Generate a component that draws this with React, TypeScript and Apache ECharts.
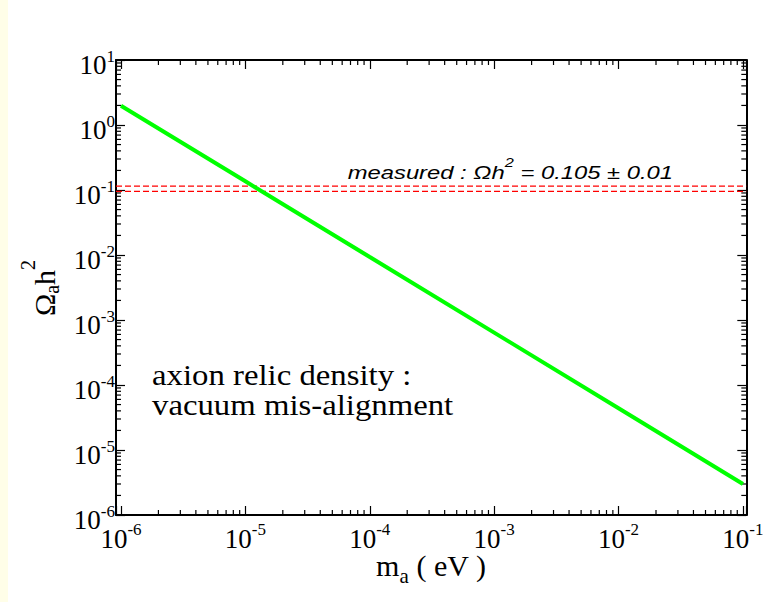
import React, { useEffect, useRef } from 'react';
import * as echarts from 'echarts';

// ---- data ----
const massEV = [1e-6, 1e-5, 1e-4, 1e-3, 1e-2, 1e-1];
const omegaH2 = [1.98, 0.136, 0.0093, 6.4e-4, 4.4e-5, 3.0e-6];
const measuredUpper = 0.115;
const measuredLower = 0.095;
const xLimits = [9.12e-7, 0.1064];
const yLimits = [1e-6, 10];
const minorSteps = [2, 3, 4, 5, 6, 7, 8, 9];
const xDecadeExps = [-7, -6, -5, -4, -3, -2, -1];
const yDecadeExps = [-6, -5, -4, -3, -2, -1, 0];

const SERIF = 'Liberation Serif';
const SANS = 'Liberation Sans';

function minorValues(exps: number[], lo: number, hi: number): number[] {
  const out: number[] = [];
  for (const e of exps) {
    for (const k of minorSteps) {
      const v = k * Math.pow(10, e);
      if (v > lo * 1.0001 && v < hi * 0.9999) out.push(v);
    }
  }
  return out;
}

const fmtPow = (v: number) => {
  const e = Math.log10(v);
  const r = Math.round(e);
  if (Math.abs(e - r) > 1e-6) return '';
  return `{b|10}{s|${r}}`;
};

const tickRich = {
  b: { fontFamily: SERIF, fontSize: 27, color: '#000', verticalAlign: 'bottom', lineHeight: 31 },
  s: { fontFamily: SERIF, fontSize: 17, color: '#000', verticalAlign: 'top', lineHeight: 17 },
};

const tickLine = { color: '#000', width: 1.2 };
const axisLine = { show: true, onZero: false, lineStyle: { color: '#000', width: 2 } };

export default function App() {
  const ref = useRef<HTMLDivElement>(null);

  useEffect(() => {
    document.body.style.margin = '0';
    if (!ref.current) return;
    const chart = echarts.init(ref.current, undefined, { renderer: 'svg' });

    const xMinor = minorValues(xDecadeExps, xLimits[0], xLimits[1]);
    const yMinor = minorValues(yDecadeExps, yLimits[0], yLimits[1]);

    const minorStyle = { stroke: '#000', lineWidth: 1.2 };

    const option: any = {
      animation: false,
      backgroundColor: '#ffffff',
      textStyle: { fontFamily: SERIF },
      grid: { left: 116, right: 37.7, top: 60, bottom: 87, containLabel: false, outerBoundsMode: 'none' },
      xAxis: [
        {
          type: 'log', logBase: 10, min: xLimits[0], max: xLimits[1], position: 'bottom',
          axisLine, axisTick: { show: true, inside: true, length: 9, lineStyle: tickLine },
          minorTick: { show: false }, splitLine: { show: false },
          axisLabel: { show: true, margin: 6, formatter: fmtPow, rich: tickRich, fontFamily: SERIF },
          name: '{m|m}{sub|a}{t| ( eV )}', nameLocation: 'middle', nameGap: 35, nameMoveOverlap: false,
          nameTextStyle: {
            fontFamily: SERIF,
            rich: {
              m: { fontFamily: SERIF, fontSize: 30, color: '#000', verticalAlign: 'top', lineHeight: 30 },
              sub: { fontFamily: SERIF, fontSize: 21, color: '#000', verticalAlign: 'top', padding: [15.5, 0, 0, 0], lineHeight: 36.5 },
              t: { fontFamily: SERIF, fontSize: 30, color: '#000', verticalAlign: 'top', lineHeight: 30 },
            },
          },
        },
        {
          type: 'log', logBase: 10, min: xLimits[0], max: xLimits[1], position: 'top',
          axisLine, axisTick: { show: true, inside: true, length: 9, lineStyle: tickLine },
          minorTick: { show: false }, splitLine: { show: false }, axisLabel: { show: false },
        },
      ],
      yAxis: [
        {
          type: 'log', logBase: 10, min: yLimits[0], max: yLimits[1], position: 'left',
          axisLine, axisTick: { show: true, inside: true, length: 9, lineStyle: tickLine },
          minorTick: { show: false }, splitLine: { show: false },
          axisLabel: { show: true, margin: 1, formatter: fmtPow, rich: tickRich, padding: [6, 0, 0, 0], fontFamily: SERIF },
        },
        {
          type: 'log', logBase: 10, min: yLimits[0], max: yLimits[1], position: 'right',
          axisLine, axisTick: { show: true, inside: true, length: 9, lineStyle: tickLine },
          minorTick: { show: false }, splitLine: { show: false }, axisLabel: { show: false },
        },
      ],
      series: [
        {
          type: 'custom', name: 'xMinor', xAxisIndex: 0, yAxisIndex: 0, silent: true, clip: false,
          data: xMinor.map((v) => [v, yLimits[0]]),
          renderItem: (params: any, api: any) => {
            const v = api.value(0);
            const pb = api.coord([v, yLimits[0]]);
            const pt = api.coord([v, yLimits[1]]);
            return {
              type: 'group',
              children: [
                { type: 'line', shape: { x1: pb[0], y1: pb[1], x2: pb[0], y2: pb[1] - 5 }, style: minorStyle },
                { type: 'line', shape: { x1: pt[0], y1: pt[1], x2: pt[0], y2: pt[1] + 5 }, style: minorStyle },
              ],
            };
          },
          z: 1,
        },
        {
          type: 'custom', name: 'yMinor', xAxisIndex: 0, yAxisIndex: 0, silent: true, clip: false,
          data: yMinor.map((v) => [xLimits[0], v]),
          renderItem: (params: any, api: any) => {
            const v = api.value(1);
            const pl = api.coord([xLimits[0], v]);
            const pr = api.coord([xLimits[1], v]);
            return {
              type: 'group',
              children: [
                { type: 'line', shape: { x1: pl[0], y1: pl[1], x2: pl[0] + 5, y2: pl[1] }, style: minorStyle },
                { type: 'line', shape: { x1: pr[0], y1: pr[1], x2: pr[0] - 5, y2: pr[1] }, style: minorStyle },
              ],
            };
          },
          z: 1,
        },
        {
          type: 'line', name: 'measured upper', xAxisIndex: 0, yAxisIndex: 0,
          data: [[xLimits[0], measuredUpper], [xLimits[1], measuredUpper]],
          showSymbol: false, symbol: 'none', silent: true,
          lineStyle: { color: '#ff0000', width: 1.2, type: [6, 3] }, z: 2,
        },
        {
          type: 'line', name: 'measured lower', xAxisIndex: 0, yAxisIndex: 0,
          data: [[xLimits[0], measuredLower], [xLimits[1], measuredLower]],
          showSymbol: false, symbol: 'none', silent: true,
          lineStyle: { color: '#ff0000', width: 1.2, type: [6, 3] }, z: 2,
        },
        {
          type: 'line', name: 'axion relic density', xAxisIndex: 0, yAxisIndex: 0,
          data: massEV.map((m, i) => [m, omegaH2[i]]),
          showSymbol: false, symbol: 'none', silent: true,
          lineStyle: { color: '#00ff00', width: 4 }, z: 3,
        },
      ],
      graphic: [
        { type: 'rect', left: 0, top: 0, shape: { x: 0, y: 0, width: 8, height: 602 }, style: { fill: '#fffee8' }, silent: true },
        {
          type: 'text', x: 40, y: 288, rotation: Math.PI / 2, silent: true,
          style: {
            text: '{O|Ω}{sub|a}{h|h}{sup|2}',
            align: 'center', verticalAlign: 'middle',
            rich: {
              O: { fontFamily: SERIF, fontSize: 30, fill: '#000', verticalAlign: 'top', padding: [11, 0, 0, 0] },
              sub: { fontFamily: SERIF, fontSize: 20, fill: '#000', verticalAlign: 'top', padding: [24, 0, 0, 0] },
              h: { fontFamily: SERIF, fontSize: 30, fill: '#000', verticalAlign: 'top', padding: [11, 0, 0, 0] },
              sup: { fontFamily: SERIF, fontSize: 20, fill: '#000', verticalAlign: 'top' },
            },
          },
        },
        {
          type: 'text', x: 673, y: 169, scaleX: 1.36, silent: true,
          style: {
            text: '{t|measured : Ωh}{s|2}{t| = 0.105 ± 0.01}',
            align: 'right', verticalAlign: 'middle',
            rich: {
              t: { fontFamily: SANS, fontStyle: 'italic', fontSize: 17.5, fill: '#000', verticalAlign: 'bottom', lineHeight: 24.75 },
              s: { fontFamily: SANS, fontStyle: 'italic', fontSize: 12, fill: '#000', verticalAlign: 'top', lineHeight: 12 },
            },
          },
        },
        {
          type: 'text', x: 152, y: 375.2, scaleX: 1.13, silent: true,
          style: { text: 'axion relic density :', fontFamily: SERIF, fontSize: 29, fill: '#000', align: 'left', verticalAlign: 'middle' },
        },
        {
          type: 'text', x: 152, y: 405.2, scaleX: 1.13, silent: true,
          style: { text: 'vacuum mis-alignment', fontFamily: SERIF, fontSize: 29, fill: '#000', align: 'left', verticalAlign: 'middle' },
        },
      ],
    };

    chart.setOption(option);
    return () => chart.dispose();
  }, []);

  return <div ref={ref} style={{ width: 784, height: 602 }} />;
}
